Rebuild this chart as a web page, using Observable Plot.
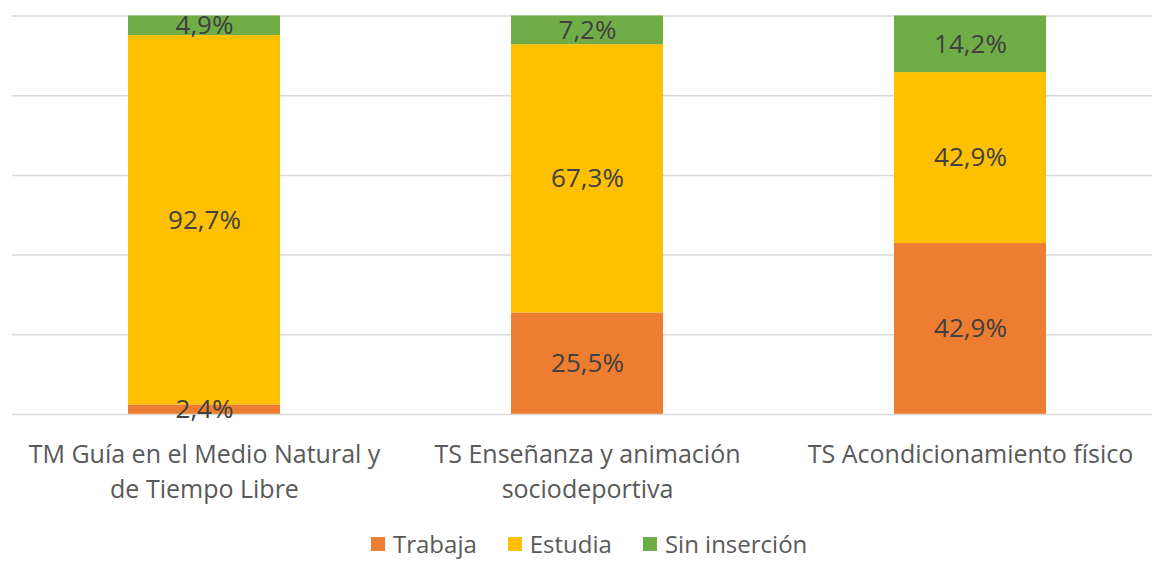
<!DOCTYPE html>
<html><head><meta charset="utf-8">
<script src="https://cdn.jsdelivr.net/npm/d3@7"></script>
<script src="https://cdn.jsdelivr.net/npm/@observablehq/plot@0.6"></script>
<style>
body{margin:0;background:#fff;font-family:"Open Sans",sans-serif;}
#chart svg{display:block;}
#legend{display:flex;justify-content:flex-start;align-items:center;height:33px;margin-top:-3px;padding-left:371px;font-size:24px;color:#595959;}
#legend .item{display:flex;align-items:center;margin-right:31px;}
#legend .sw{width:14px;height:14px;margin-right:8px;}
</style></head><body><div id="chart"></div><div id="legend"></div>
<script>
const categories = ["TM Guía en el Medio Natural y\nde Tiempo Libre", "TS Enseñanza y animación\nsociodeportiva", "TS Acondicionamiento físico"];
const series = ["Trabaja", "Estudia", "Sin inserción"];
const colors = ["#ED7D31", "#FFC000", "#70AD47"];
const trabaja = [2.4, 25.5, 42.9];
const estudia = [92.7, 67.3, 42.9];
const sinInsercion = [4.9, 7.2, 14.2];
const yTicks = [0, 20, 40, 60, 80, 100];

const values = [trabaja, estudia, sinInsercion];
const data = [];
series.forEach((s, i) => categories.forEach((c, j) => data.push({cat: c, serie: s, value: values[i][j]})));
const fmt = v => v.toFixed(1).replace(".", ",") + "%";

const plot = Plot.plot({
  width: 1152, height: 530,
  marginTop: 15.5, marginBottom: 116, marginLeft: 12, marginRight: 0,
  style: {fontFamily: "'Open Sans', sans-serif", fontSize: "20px", background: "white"},
  x: {domain: categories, range: [12, 1162.5], paddingInner: 0.604, paddingOuter: 0.302, label: null},
  y: {domain: [0, 100], label: null, axis: null},
  color: {domain: series, range: colors},
  marks: [
    Plot.gridY(yTicks.slice(1), {stroke: "#d9d9d9", strokeOpacity: 1, strokeWidth: 1.5}),
    Plot.barY(data, {x: "cat", y: "value", fill: "serie"}),
    Plot.ruleY([0], {stroke: "#d9d9d9", strokeWidth: 1.5}),
    Plot.text(data, Plot.stackY({x: "cat", y: "value", z: "serie", text: d => fmt(d.value), fill: "#404040", fontSize: 26})),
    Plot.axisX({tickSize: 0, tickPadding: 24, lineHeight: 1.4, fill: "#595959", fontSize: 25})
  ]
});
document.getElementById("chart").appendChild(plot);

const legend = document.getElementById("legend");
series.forEach((s, i) => {
  const it = document.createElement("div"); it.className = "item";
  const sw = document.createElement("span"); sw.className = "sw"; sw.style.background = colors[i];
  const t = document.createElement("span"); t.textContent = s;
  it.appendChild(sw); it.appendChild(t); legend.appendChild(it);
});
</script></body></html>
